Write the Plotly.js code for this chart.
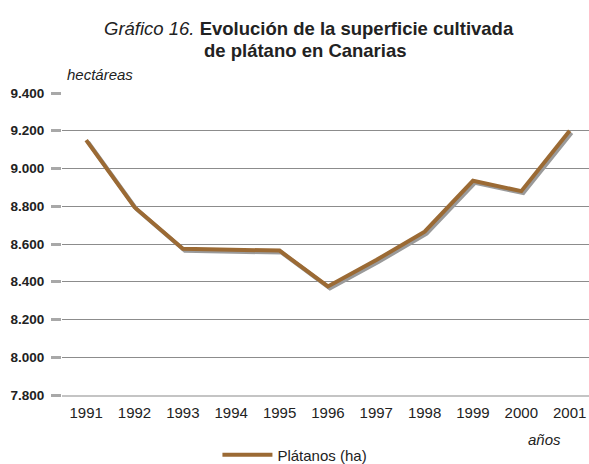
<!DOCTYPE html>
<html>
<head>
<meta charset="utf-8">
<script src="https://cdn.plot.ly/plotly-3.0.1.min.js"></script>
<style>
html,body{margin:0;padding:0;background:#fff;}
#chart{width:589px;height:464px;}
#chart .scatterlayer .trace path.js-line{filter:drop-shadow(2px 2px 0px #9a9a9a);}
</style>
</head>
<body>
<div id="chart"></div>
<script>
const years = ["1991","1992","1993","1994","1995","1996","1997","1998","1999","2000","2001"];
const hectares = [9150, 8795, 8575, 8570, 8565, 8375, 8515, 8665, 8935, 8880, 9200];
const yTickVals = [7800, 8000, 8200, 8400, 8600, 8800, 9000, 9200, 9400];
const yTickText = ["7.800", "8.000", "8.200", "8.400", "8.600", "8.800", "9.000", "9.200", "9.400"];
const seriesName = "Plátanos (ha)";
const titleLine1 = "<i style='font-weight:normal'>Gráfico 16.</i> <b>Evolución de la superficie cultivada</b>";
const titleLine2 = "<b>de plátano en Canarias</b>";

const FONT = "'Liberation Sans', Arial, sans-serif";

const trace = {
  x: years,
  y: hectares,
  type: "scatter",
  mode: "lines",
  name: seriesName,
  line: {color: "#9b6a34", width: 4}
};

const layout = {
  width: 589,
  height: 464,
  margin: {l: 62, r: 0, t: 93, b: 69, autoexpand: false},
  paper_bgcolor: "#ffffff",
  plot_bgcolor: "#ffffff",
  font: {family: FONT, color: "#222"},
  xaxis: {
    type: "category",
    range: [-0.5, 10.4],
    showgrid: false,
    ticks: "",
    showline: true,
    linecolor: "#c4c4c4",
    linewidth: 2,
    ticklabelstandoff: 3,
    tickfont: {size: 15, color: "#222", family: FONT},
    fixedrange: true
  },
  yaxis: {
    range: [7800, 9400],
    tickvals: yTickVals,
    ticktext: yTickText,
    ticks: "outside",
    ticklen: 10,
    tickwidth: 3,
    tickcolor: "#a8a8a8",
    ticklabelstandoff: 4,
    showgrid: true,
    gridcolor: "#8c8c8c",
    gridwidth: 1,
    zeroline: false,
    showline: false,
    tickfont: {size: 13.5, color: "#222", weight: "bold", family: FONT},
    fixedrange: true
  },
  showlegend: true,
  legend: {
    orientation: "h",
    x: 0.442, xanchor: "center",
    y: -0.199, yanchor: "middle",
    itemwidth: 50,
    font: {size: 15, color: "#222", family: FONT},
    bgcolor: "rgba(0,0,0,0)"
  },
  annotations: [
    {text: titleLine1, xref: "paper", yref: "paper", x: 0.469, y: 1.212, xanchor: "center", yanchor: "middle", showarrow: false, font: {size: 18.5, color: "#222", family: FONT}},
    {text: titleLine2, xref: "paper", yref: "paper", x: 0.462, y: 1.142, xanchor: "center", yanchor: "middle", showarrow: false, font: {size: 18.5, color: "#222", family: FONT}},
    {text: "<i>hectáreas</i>", xref: "paper", yref: "paper", x: 0.005, y: 1.06, xanchor: "left", yanchor: "middle", showarrow: false, font: {size: 15, color: "#222", family: FONT}},
    {text: "<i>años</i>", xref: "paper", yref: "paper", x: 0.915, y: -0.149, xanchor: "center", yanchor: "middle", showarrow: false, font: {size: 15, color: "#222", family: FONT}}
  ]
};

Plotly.newPlot("chart", [trace], layout, {displayModeBar: false, staticPlot: true});
</script>
</body>
</html>
